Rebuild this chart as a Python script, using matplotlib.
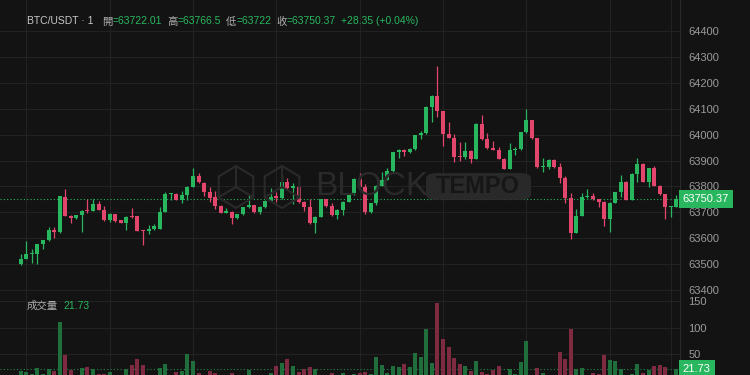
import numpy as np
import matplotlib.pyplot as plt
from matplotlib.patches import FancyBboxPatch, Polygon

plt.rcParams['font.family'] = ['Liberation Sans Narrow', 'Liberation Sans', 'Noto Sans CJK TC']

# 1-minute BTC/USDT candles
opens = [63499, 63520, 63538, 63539, 63576, 63592, 63632, 63624, 63760, 63686,
         63677, 63688, 63708, 63706, 63733, 63709, 63670, 63693, 63669, 63660,
         63683, 63684, 63630, 63626, 63634, 63636, 63702, 63769, 63771, 63748,
         63765, 63798, 63840, 63814, 63777, 63758, 63726, 63699, 63702, 63677,
         63692, 63720, 63728, 63700, 63720, 63744, 63762, 63754, 63816, 63795,
         63799, 63740, 63720, 63657, 63682, 63750, 63726, 63688, 63708, 63740,
         63773, 63829, 63796, 63701, 63735, 63803, 63825, 63859, 63934, 63942,
         63932, 63943, 63998, 64005, 64107, 64150, 64091, 64004, 63988, 63916,
         63915, 63935, 63906, 64042, 63982, 63950, 63941, 63907, 63868, 63939,
         63943, 64009, 64055, 63986, 63874, 63876, 63902, 63876, 63831, 63754,
         63621, 63686, 63758, 63764, 63751, 63740, 63676, 63737, 63777, 63818,
         63748, 63848, 63887, 63818, 63871, 63803, 63769, 63719, 63722.01]
highs = [63538, 63589, 63557, 63579, 63593, 63643, 63642, 63763, 63790, 63688,
         63690, 63708, 63750, 63751, 63745, 63723, 63699, 63695, 63671, 63686,
         63718, 63686, 63632, 63651, 63653, 63722, 63780, 63773, 63773, 63784,
         63800, 63870, 63852, 63816, 63799, 63784, 63728, 63718, 63704, 63694,
         63722, 63767, 63730, 63724, 63746, 63795, 63780, 63844, 63831, 63812,
         63801, 63742, 63750, 63684, 63752, 63752, 63735, 63711, 63742, 63775,
         63831, 63850, 63808, 63737, 63805, 63857, 63872, 63934, 63946, 63944,
         63948, 64000, 64014, 64109, 64153, 64265, 64093, 64047, 64002, 63973,
         63973, 63940, 64044, 64076, 64005, 63975, 63951, 63909, 63966, 63953,
         64011, 64099, 64057, 63988, 63908, 63904, 63904, 63892, 63840, 63773,
         63713, 63773, 63789, 63773, 63753, 63742, 63739, 63779, 63844, 63820,
         63850, 63911, 63890, 63873, 63879, 63805, 63771, 63724, 63766.5]
lows = [63496, 63518, 63503, 63502, 63558, 63590, 63600, 63622, 63684, 63657,
        63675, 63625, 63698, 63704, 63707, 63668, 63661, 63663, 63658, 63632,
        63679, 63626, 63574, 63617, 63631, 63634, 63700, 63747, 63746, 63737,
        63748, 63796, 63814, 63764, 63741, 63713, 63697, 63697, 63655, 63675,
        63690, 63718, 63698, 63692, 63718, 63742, 63741, 63752, 63791, 63732,
        63736, 63706, 63655, 63621, 63680, 63719, 63686, 63673, 63690, 63738,
        63768, 63794, 63693, 63699, 63729, 63801, 63823, 63853, 63911, 63919,
        63930, 63941, 63984, 64003, 64050, 64067, 63956, 63986, 63895, 63899,
        63905, 63889, 63904, 63980, 63943, 63940, 63906, 63866, 63866, 63921,
        63941, 64005, 63984, 63872, 63854, 63866, 63873, 63812, 63737, 63598,
        63619, 63684, 63756, 63748, 63722, 63647, 63623, 63735, 63760, 63746,
        63746, 63818, 63816, 63799, 63801, 63767, 63673, 63683, 63722]
closes = [63520, 63538, 63540, 63578, 63592, 63630, 63623, 63762, 63686, 63678,
          63688, 63706, 63705, 63733, 63709, 63670, 63693, 63665, 63660, 63683,
          63682, 63628, 63628, 63637, 63648, 63702, 63771, 63772, 63748, 63765,
          63798, 63840, 63816, 63777, 63756, 63724, 63699, 63705, 63677, 63692,
          63720, 63728, 63700, 63722, 63744, 63760, 63754, 63816, 63793, 63800,
          63738, 63719, 63657, 63682, 63750, 63724, 63688, 63709, 63740, 63773,
          63829, 63796, 63701, 63735, 63803, 63825, 63859, 63932, 63942, 63932,
          63943, 63998, 64005, 64107, 64150, 64091, 64004, 63988, 63915, 63913,
          63935, 63906, 64042, 63982, 63950, 63941, 63907, 63868, 63939, 63943,
          64009, 64055, 63986, 63874, 63878, 63902, 63876, 63831, 63754, 63621,
          63686, 63758, 63764, 63751, 63740, 63676, 63737, 63777, 63818, 63748,
          63848, 63887, 63818, 63871, 63803, 63769, 63719, 63722, 63750.37]
volumes = [18.6, 16, 12, 23, 12, 21, 18.6, 109.8, 48, 20,
           8, 23, 25.5, 21, 13, 13, 17, 8, 6, 21,
           29, 40, 29, 7, 9, 24, 31, 8, 17, 18,
           49.4, 37, 15, 8, 18.6, 15, 6, 5, 15, 7,
           8, 20, 6, 7, 8, 15, 27.4, 33.7, 40.6, 27.4,
           16.7, 21, 25, 21, 9, 7, 13.5, 6, 13.5, 8,
           12, 14.8, 16.7, 12, 45, 30, 13.5, 27.4, 25, 31,
           26, 51.3, 45, 97.8, 33.7, 146.9, 77.7, 62.6, 42.5, 31,
           27.4, 18, 37, 16.7, 12, 20, 27.4, 8, 21, 12,
           35, 74.6, 6, 24, 13.5, 7, 7, 53.2, 40, 97.8,
           21, 23.6, 7, 13.5, 12, 48.1, 38.7, 36.8, 21, 8,
           12, 30.5, 13.5, 19.8, 27.4, 28.6, 26.1, 8, 21.73]

price_ticks = [63400, 63500, 63600, 63700, 63800, 63900, 64000, 64100, 64200, 64300, 64400]
vol_ticks = [50, 100, 150]
vgrid_idx = [1, 16, 31, 46, 61, 76, 91, 106, 117]

BG = '#131313'
GRID = '#222222'
UP = '#28b75e'
DOWN = '#e2466d'
UP_V = '#1f6e3c'
DOWN_V = '#7e2b42'
TXT = '#9a9a9a'

o = np.array(opens); h = np.array(highs); l = np.array(lows); c = np.array(closes)
v = np.array(volumes)
x = np.arange(len(o))
up = c >= o

fig = plt.figure(figsize=(7.5, 3.75), dpi=100, facecolor=BG)
ax_p = fig.add_axes([0, 0.2173, 0.9067, 0.7827])
ax_v = fig.add_axes([0, 0, 0.9067, 0.2173])

for ax in (ax_p, ax_v):
    ax.set_facecolor(BG)
    ax.set_xlim(-3.73, 118.67)
    for s in ('top', 'left'):
        ax.spines[s].set_visible(False)
    ax.spines['right'].set_color('#2a2a2a')
    ax.spines['bottom'].set_color('#2a2a2a')
    ax.yaxis.tick_right()
    ax.tick_params(axis='y', length=0, pad=6, labelsize=8, labelcolor=TXT)
    ax.set_xticks([])
    for i in vgrid_idx:
        ax.axvline(i, color=GRID, lw=0.8, zorder=0)
ax_v.spines['bottom'].set_visible(False)

# price panel
ax_p.set_ylim(63386.5, 64519.7)
ax_p.set_yticks(price_ticks)
for t in price_ticks:
    ax_p.axhline(t, color=GRID, lw=0.8, zorder=0)

cols = np.where(up, UP, DOWN)
ax_p.vlines(x, l, h, color=cols, lw=0.9, zorder=3)
body = np.maximum(np.abs(c - o), 4)
ax_p.bar(x, body, bottom=np.minimum(o, c), width=0.72, color=cols, zorder=4)

last = closes[-1]
ax_p.axhline(last, color=UP, lw=0.8, ls=(0, (1, 2)), zorder=2)
ax_p.text(1.004, last, f'{last:.2f}', transform=ax_p.get_yaxis_transform(),
          ha='left', va='center', fontsize=8, color='white', clip_on=False,
          bbox=dict(boxstyle='square,pad=0.35', fc=UP, ec='none'))

# volume panel
ax_v.set_ylim(10.4, 164.2)
ax_v.set_yticks(vol_ticks)
for t in vol_ticks:
    ax_v.axhline(t, color=GRID, lw=0.8, zorder=0)
ax_v.bar(x, v, width=0.72, color=np.where(up, UP_V, DOWN_V), zorder=3)
ax_v.axhline(volumes[-1], color=UP, lw=0.8, ls=(0, (1, 2)), alpha=0.7, zorder=2)
ax_v.text(1.004, volumes[-1], f'{volumes[-1]:.2f}', transform=ax_v.get_yaxis_transform(),
          ha='left', va='center', fontsize=8, color='white', clip_on=False,
          bbox=dict(boxstyle='square,pad=0.35', fc=UP, ec='none'))


def fx(px):
    return px / 750


def fy(py):
    return 1 - py / 375


renderer = fig.canvas.get_renderer()


def chain(parts, x0, y0, size):
    # place text pieces one after another, measuring each
    xp = x0
    for s, col, gap in parts:
        xp += gap
        t = fig.text(fx(xp), fy(y0), s, fontsize=size, color=col, va='center')
        xp = t.get_window_extent(renderer).x1


# header
GR = '#b0b0b0'
chain([('BTC/USDT · 1', '#c8c8c8', 0),
       ('開', GR, 9), ('=63722.01', UP, 0),
       ('高', GR, 5), ('=63766.5', UP, 0),
       ('低', GR, 5), ('=63722', UP, 0),
       ('收', GR, 5), ('=63750.37', UP, 0),
       ('+28.35 (+0.04%)', UP, 5)], 27, 21.5, 7.5)

chain([('成交量', GR, 0), ('21.73', UP, 5)], 27, 306, 7.5)

# watermark
WM = '#2a2a2a'
for cx in (236, 282):
    pts = [(cx + 20 * np.cos(a), 187 + 21 * np.sin(a)) for a in np.radians(np.arange(30, 390, 60))]
    fig.patches.append(Polygon([(fx(px), fy(py)) for px, py in pts], closed=True, fill=False,
                               ec=WM, lw=1.5, transform=fig.transFigure, zorder=1))
    for px2, py2 in [(cx, 166), (cx - 17, 197), (cx + 17, 197)]:
        fig.lines.append(plt.Line2D([fx(cx), fx(px2)], [fy(187), fy(py2)], color=WM, lw=1.5,
                                    transform=fig.transFigure, zorder=1))
fig.text(fx(315), fy(187), 'BLOCK', fontsize=24, color=WM, va='center', ha='left', zorder=1,
         family=['Liberation Sans', 'DejaVu Sans'])
fig.patches.append(FancyBboxPatch((fx(426), fy(200)), fx(105), 27 / 375,
                                  boxstyle='round,pad=0,rounding_size=0.015',
                                  fc='#2c2c2c', ec='none', alpha=0.9,
                                  transform=fig.transFigure, zorder=1))
fig.text(fx(478), fy(186.5), 'TEMPO', fontsize=17, fontweight='bold', color='#161616',
         va='center', ha='center', zorder=2, family=['Liberation Sans', 'DejaVu Sans'])

plt.savefig('out.png', dpi=100, facecolor=BG)
